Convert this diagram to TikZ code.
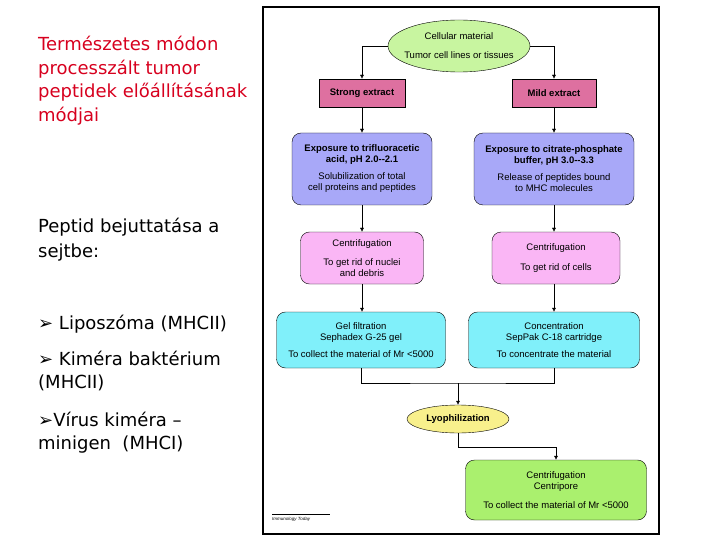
\documentclass[tikz,border=0pt]{standalone}
\usepackage{fontspec}
\setmainfont{DejaVu Sans}
\newfontfamily\diafont{Liberation Sans}
\usetikzlibrary{shapes.geometric,arrows.meta}
\definecolor{cellgreen}{RGB}{200,245,160}
\definecolor{extpink}{RGB}{222,112,160}
\definecolor{expblue}{RGB}{168,168,248}
\definecolor{cenpink}{RGB}{250,182,245}
\definecolor{gelcyan}{RGB}{128,240,250}
\definecolor{lyoyellow}{RGB}{248,240,140}
\definecolor{fingreen}{RGB}{170,240,110}
\definecolor{titlered}{RGB}{215,0,30}
\tikzset{
  box/.style={draw, thin, align=center, inner sep=1pt,
    font=\diafont\fontsize{9.5}{11}\selectfont},
  boldbox/.style={box, font=\diafont\bfseries\fontsize{9.5}{11}\selectfont},
  rbox/.style={box, rounded corners=9pt},
  ebox/.style={box, ellipse},
  arr/.style={-{Latex[length=4pt,width=4pt]}, thin},
  lefttext/.style={anchor=base west, inner sep=0pt, font=\fontsize{18}{22}\selectfont}
}
\begin{document}
\begin{tikzpicture}[x=1pt,y=-1pt]
\useasboundingbox (0,0) rectangle (720,540);
% left column text
\foreach \txt/\yy [count=\i] in {Természetes módon/51, processzált tumor/75,
    peptidek előállításának/98, módjai/122}
  \node[lefttext, text=titlered] (title\i) at (38,\yy) {\txt};
\foreach \txt/\yy [count=\i] in {Peptid bejuttatása a/233, sejtbe:/258,
    ➢ Liposzóma (MHCII)/329, ➢ Kiméra baktérium/365, (MHCII)/388,
    ➢Vírus kiméra –/426, minigen\ \ (MHCI)/449}
  \node[lefttext] (item\i) at (38,\yy) {\txt};
% frame
\draw[line width=2.8pt] (263,7) rectangle (659,534);
% flow chart
\node[ebox, fill=cellgreen, inner xsep=-9pt, minimum width=142, minimum height=52] (cell) at (459,46)
  {Cellular material\\[8pt] Tumor cell lines or tissues};
\node[boldbox, fill=extpink, minimum width=86, minimum height=28] (strong) at (362,93) {Strong extract};
\node[boldbox, fill=extpink, minimum width=84, minimum height=28] (mild) at (554,93) {Mild extract};
\node[rbox, fill=expblue, minimum width=140, minimum height=72] (expL) at (362,169)
  {\textbf{Exposure to trifluoracetic}\\ \textbf{acid, pH 2.0--2.1}\\[6pt]
   Solubilization of total\\ cell proteins and peptides};
\node[rbox, fill=expblue, minimum width=160, minimum height=72] (expR) at (554,169)
  {\textbf{Exposure to citrate-phosphate}\\ \textbf{buffer, pH 3.0--3.3}\\[6pt]
   Release of peptides bound\\ to MHC molecules};
\node[rbox, fill=cenpink, minimum width=123, minimum height=52] (cenL) at (362,258)
  {Centrifugation\\[8pt] To get rid of nuclei\\ and debris};
\node[rbox, fill=cenpink, minimum width=128, minimum height=52] (cenR) at (556,258)
  {Centrifugation\\[9pt] To get rid of cells};
\node[rbox, fill=gelcyan, minimum width=169, minimum height=56] (gelL) at (361,340)
  {Gel filtration\\ Sephadex G-25 gel\\[6pt] To collect the material of Mr <5000};
\node[rbox, fill=gelcyan, minimum width=171, minimum height=56] (conR) at (554,340)
  {Concentration\\ SepPak C-18 cartridge\\[6pt] To concentrate the material};
\node[ebox, boldbox, fill=lyoyellow, minimum width=102, minimum height=28] (lyo) at (458,419) {Lyophilization};
\node[rbox, fill=fingreen, minimum width=181, minimum height=60] (cenF) at (556,490)
  {Centrifugation\\ Centripore\\[8pt] To collect the material of Mr <5000};
% connectors
\draw[arr] (cell.west) -| (strong.north);
\draw[arr] (cell.east) -| (mild.north);
\draw[arr] (strong) -- (expL);
\draw[arr] (mild) -- (expR);
\draw[arr] (expL) -- (cenL);
\draw[arr] (expR.south) -- (expR.south |- cenR.north);
\draw[arr] (cenL) -- (cenL |- gelL.north);
\draw[arr] (cenR.south -| conR) -- (conR.north);
\coordinate (merge) at (458,383);
\draw (gelL.south) |- (merge) -| (conR.south);
\draw[arr] (merge) -- (lyo.north);
\draw[arr] (lyo.south) -- ++(0,14) -| (cenF.north);
% source
\draw[very thin] (272,514) -- (330,514);
\node[anchor=base west, inner sep=0pt, font=\diafont\itshape\fontsize{4.5}{5}\selectfont] (source) at (272,520) {Immunology Today};
\end{tikzpicture}
\end{document}
